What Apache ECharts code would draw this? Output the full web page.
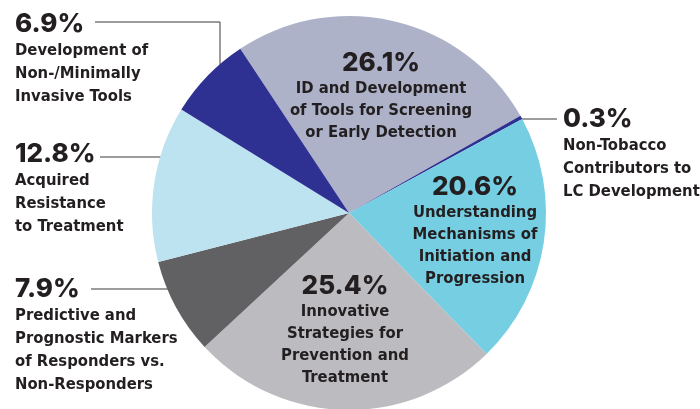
<!DOCTYPE html>
<html>
<head>
<meta charset="utf-8">
<script src="https://cdn.jsdelivr.net/npm/echarts@6/dist/echarts.min.js"></script>
<style>
  html, body { margin: 0; padding: 0; background: #fff; }
  #pie { width: 700px; height: 409px; }
</style>
</head>
<body>
<div id="pie"></div>
<script>
// slices in clockwise order, starting at the top-left edge
var topics = [
  'ID and Development\nof Tools for Screening\nor Early Detection',
  'Non-Tobacco\nContributors to\nLC Development',
  'Understanding\nMechanisms of\nInitiation and\nProgression',
  'Innovative\nStrategies for\nPrevention and\nTreatment',
  'Predictive and\nPrognostic Markers\nof Responders vs.\nNon-Responders',
  'Acquired\nResistance\nto Treatment',
  'Development of\nNon-/Minimally\nInvasive Tools'
];
var shares = [26.1, 0.3, 20.6, 25.4, 7.9, 12.8, 6.9];

var sliceColors = ['#adb2c9', '#2e3192', '#76cee3', '#bcbcc0', '#616164', '#bde3f1', '#2e3192'];
// where each label block goes (top anchor) and whether it sits inside its slice
var labelSpots = [
  { x: 381, y: 48, align: 'center', inside: true },
  { x: 563, y: 104, align: 'left', line: [[519, 119], [540, 119], [557, 119]] },
  { x: 475, y: 172, align: 'center', inside: true },
  { x: 345, y: 271, align: 'center', inside: true },
  { x: 15, y: 274, align: 'left', line: [[180, 289], [135, 289], [91, 289]] },
  { x: 15, y: 139, align: 'left', line: [[181, 157], [140, 157], [100, 157]] },
  { x: 15, y: 9, align: 'left', line: [[220, 85], [220, 22], [95, 22]] }
];

var pctFont = 'Inter, "Open Sans", sans-serif';
var txtFont = '"DejaVu Sans Condensed", sans-serif';

document.addEventListener('DOMContentLoaded', function () {
  var myChart = echarts.init(document.getElementById('pie'), null, { renderer: 'canvas' });

  var seriesData = shares.map(function (v, i) {
    var spot = labelSpots[i];
    var k = spot.align === 'center' ? 'C' : 'L';
    return {
      name: topics[i],
      value: v,
      itemStyle: { color: sliceColors[i] },
      label: {
        position: spot.inside ? 'inside' : 'outside',
        formatter: '{p' + k + '|' + v.toFixed(1) + '%}\n{t' + k + '|' + topics[i] + '}'
      },
      labelLine: { show: !spot.inside }
    };
  });

  var option = {
    animation: false,
    series: [
      {
        type: 'pie',
        center: [349, 213],
        radius: 197,
        startAngle: 123.5,
        clockwise: true,
        avoidLabelOverlap: false,
        itemStyle: { borderWidth: 0 },
        data: seriesData,
        label: {
          show: true,
          color: '#231f20',
          rich: {
            pL: { fontFamily: pctFont, fontWeight: 800, fontSize: 26, lineHeight: 30, color: '#231f20', align: 'left' },
            tL: { fontFamily: txtFont, fontWeight: 'bold', fontSize: 16.5, lineHeight: 23, color: '#231f20', align: 'left' },
            pC: { fontFamily: pctFont, fontWeight: 800, fontSize: 26, lineHeight: 30, color: '#231f20', align: 'center' },
            tC: { fontFamily: txtFont, fontWeight: 'bold', fontSize: 16.5, lineHeight: 22, color: '#231f20', align: 'center' }
          }
        },
        labelLine: {
          lineStyle: { color: '#3a3a3a', width: 1 }
        },
        labelLayout: function (params) {
          var spot = labelSpots[params.dataIndex];
          var out = { x: spot.x, y: spot.y, align: spot.align, verticalAlign: 'top' };
          if (spot.line) out.labelLinePoints = spot.line;
          return out;
        }
      }
    ]
  };

  myChart.setOption(option);
});
</script>
</body>
</html>
